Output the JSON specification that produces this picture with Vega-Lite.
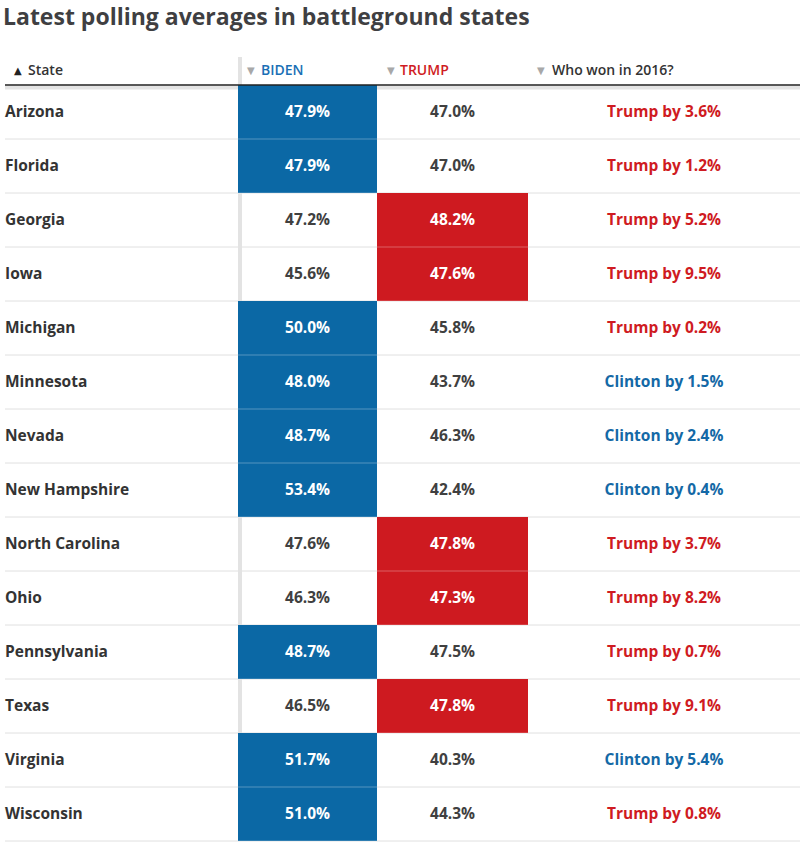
{
  "$schema": "https://vega.github.io/schema/vega-lite/v6.json",
  "background": "white",
  "padding": {"left": 3, "top": 7, "right": 0, "bottom": 0},
  "title": {"text": "Latest polling averages in battleground states", "anchor": "start", "font": "Open Sans", "fontSize": 23, "fontWeight": 700, "color": "#3f3f42", "offset": 25},
  "config": {"view": {"stroke": null}, "text": {"font": "Open Sans"}},
  "datasets": {
    "polls": [
      {"state": "Arizona", "biden": 0.479, "trump": 0.470, "winner": "Trump", "result2016": "Trump by 3.6%"},
      {"state": "Florida", "biden": 0.479, "trump": 0.470, "winner": "Trump", "result2016": "Trump by 1.2%"},
      {"state": "Georgia", "biden": 0.472, "trump": 0.482, "winner": "Trump", "result2016": "Trump by 5.2%"},
      {"state": "Iowa", "biden": 0.456, "trump": 0.476, "winner": "Trump", "result2016": "Trump by 9.5%"},
      {"state": "Michigan", "biden": 0.500, "trump": 0.458, "winner": "Trump", "result2016": "Trump by 0.2%"},
      {"state": "Minnesota", "biden": 0.480, "trump": 0.437, "winner": "Clinton", "result2016": "Clinton by 1.5%"},
      {"state": "Nevada", "biden": 0.487, "trump": 0.463, "winner": "Clinton", "result2016": "Clinton by 2.4%"},
      {"state": "New Hampshire", "biden": 0.534, "trump": 0.424, "winner": "Clinton", "result2016": "Clinton by 0.4%"},
      {"state": "North Carolina", "biden": 0.476, "trump": 0.478, "winner": "Trump", "result2016": "Trump by 3.7%"},
      {"state": "Ohio", "biden": 0.463, "trump": 0.473, "winner": "Trump", "result2016": "Trump by 8.2%"},
      {"state": "Pennsylvania", "biden": 0.487, "trump": 0.475, "winner": "Trump", "result2016": "Trump by 0.7%"},
      {"state": "Texas", "biden": 0.465, "trump": 0.478, "winner": "Trump", "result2016": "Trump by 9.1%"},
      {"state": "Virginia", "biden": 0.517, "trump": 0.403, "winner": "Clinton", "result2016": "Clinton by 5.4%"},
      {"state": "Wisconsin", "biden": 0.510, "trump": 0.443, "winner": "Trump", "result2016": "Trump by 0.8%"}
    ],
    "headers": [
      {"column": "State", "arrow": "▲"},
      {"column": "BIDEN", "arrow": "▼"},
      {"column": "TRUMP", "arrow": "▼"},
      {"column": "Who won in 2016?", "arrow": "▼"}
    ]
  },
  "columns": 4,
  "spacing": 0,
  "bounds": "flush",
  "align": "each",
  "concat": [
    {
      "width": 233, "height": 28,
      "data": {"name": "headers"},
      "transform": [{"filter": "datum.column === 'State'"}],
      "layer": [
        {"mark": {"type": "text", "align": "left", "baseline": "middle", "font": "DejaVu Sans", "fontSize": 10, "color": "#222222"}, "encoding": {"x": {"value": 9}, "text": {"field": "arrow"}}},
        {"mark": {"type": "text", "align": "left", "baseline": "middle", "fontSize": 14, "fontWeight": 600, "color": "#333333"}, "encoding": {"x": {"value": 23}, "text": {"field": "column"}}}
      ]
    },
    {
      "width": 139, "height": 28,
      "data": {"name": "headers"},
      "transform": [{"filter": "datum.column === 'BIDEN'"}],
      "layer": [
        {"mark": {"type": "rule", "color": "#e3e3e3", "strokeWidth": 4}, "encoding": {"x": {"value": 2}}},
        {"mark": {"type": "text", "align": "left", "baseline": "middle", "font": "DejaVu Sans", "fontSize": 10, "color": "#a8a8a8"}, "encoding": {"x": {"value": 9}, "text": {"field": "arrow"}}},
        {"mark": {"type": "text", "align": "left", "baseline": "middle", "fontSize": 14, "fontWeight": 600, "color": "#1a6fb5"}, "encoding": {"x": {"value": 23}, "text": {"field": "column"}}}
      ]
    },
    {
      "width": 151, "height": 28,
      "data": {"name": "headers"},
      "transform": [{"filter": "datum.column === 'TRUMP'"}],
      "layer": [
        {"mark": {"type": "text", "align": "left", "baseline": "middle", "font": "DejaVu Sans", "fontSize": 10, "color": "#a8a8a8"}, "encoding": {"x": {"value": 10}, "text": {"field": "arrow"}}},
        {"mark": {"type": "text", "align": "left", "baseline": "middle", "fontSize": 14, "fontWeight": 600, "color": "#cf1b22"}, "encoding": {"x": {"value": 23}, "text": {"field": "column"}}}
      ]
    },
    {
      "width": 272, "height": 28,
      "data": {"name": "headers"},
      "transform": [{"filter": "datum.column === 'Who won in 2016?'"}],
      "layer": [
        {"mark": {"type": "text", "align": "left", "baseline": "middle", "font": "DejaVu Sans", "fontSize": 10, "color": "#a8a8a8"}, "encoding": {"x": {"value": 9}, "text": {"field": "arrow"}}},
        {"mark": {"type": "text", "align": "left", "baseline": "middle", "fontSize": 14, "fontWeight": 600, "color": "#333333"}, "encoding": {"x": {"value": 24}, "text": {"field": "column"}}}
      ]
    },
    {
      "width": 233, "height": 756,
      "data": {"name": "polls"},
      "encoding": {"y": {"field": "state", "type": "nominal", "axis": null, "scale": {"paddingInner": 0, "paddingOuter": 0}}},
      "layer": [
        {"mark": {"type": "rule", "color": "#e0e0e0", "strokeWidth": 1}, "encoding": {"y": {"field": "state", "type": "nominal", "bandPosition": 1}}},
        {"transform": [{"filter": "datum.state === 'Arizona'"}], "mark": {"type": "rule", "color": "#e4e4e4", "strokeWidth": 4, "yOffset": 2.5}, "encoding": {"y": {"field": "state", "type": "nominal", "bandPosition": 0}}},
        {"transform": [{"filter": "datum.state === 'Arizona'"}], "mark": {"type": "rule", "color": "#222222", "strokeWidth": 1.5}, "encoding": {"y": {"field": "state", "type": "nominal", "bandPosition": 0}}},
        {"mark": {"type": "text", "align": "left", "baseline": "middle", "fontSize": 15.5, "fontWeight": 700, "color": "#333333"}, "encoding": {"x": {"value": 0}, "text": {"field": "state"}}}
      ]
    },
    {
      "width": 139, "height": 756,
      "data": {"name": "polls"},
      "encoding": {"y": {"field": "state", "type": "nominal", "axis": null, "scale": {"paddingInner": 0, "paddingOuter": 0}}},
      "layer": [
        {"mark": {"type": "rule", "color": "#e0e0e0", "strokeWidth": 1}, "encoding": {"y": {"field": "state", "type": "nominal", "bandPosition": 1}}},
        {"transform": [{"filter": "datum.state === 'Arizona'"}], "mark": {"type": "rule", "color": "#e4e4e4", "strokeWidth": 4, "yOffset": 2.5}, "encoding": {"y": {"field": "state", "type": "nominal", "bandPosition": 0}}},
        {"transform": [{"filter": "datum.state === 'Arizona'"}], "mark": {"type": "rule", "color": "#e3e3e3", "strokeWidth": 4}, "encoding": {"x": {"value": 2}, "y": null}},
        {"transform": [{"filter": "datum.biden > datum.trump"}], "mark": {"type": "rect", "color": "#0b68a5"}},
        {"transform": [{"filter": "datum.biden > datum.trump"}], "mark": {"type": "rule", "color": "white", "opacity": 0.3, "strokeWidth": 1}, "encoding": {"y": {"field": "state", "type": "nominal", "bandPosition": 1}}},
        {"transform": [{"filter": "datum.state === 'Arizona'"}], "mark": {"type": "rule", "color": "#222222", "strokeWidth": 1.5}, "encoding": {"y": {"field": "state", "type": "nominal", "bandPosition": 0}}},
        {"mark": {"type": "text", "baseline": "middle", "fontSize": 15.5, "fontWeight": 700}, "encoding": {"text": {"field": "biden", "type": "quantitative", "format": ".1%"}, "color": {"condition": {"test": "datum.biden > datum.trump", "value": "white"}, "value": "#404040"}}}
      ]
    },
    {
      "width": 151, "height": 756,
      "data": {"name": "polls"},
      "encoding": {"y": {"field": "state", "type": "nominal", "axis": null, "scale": {"paddingInner": 0, "paddingOuter": 0}}},
      "layer": [
        {"mark": {"type": "rule", "color": "#e0e0e0", "strokeWidth": 1}, "encoding": {"y": {"field": "state", "type": "nominal", "bandPosition": 1}}},
        {"transform": [{"filter": "datum.state === 'Arizona'"}], "mark": {"type": "rule", "color": "#e4e4e4", "strokeWidth": 4, "yOffset": 2.5}, "encoding": {"y": {"field": "state", "type": "nominal", "bandPosition": 0}}},
        {"transform": [{"filter": "datum.trump > datum.biden"}], "mark": {"type": "rect", "color": "#ce1a20"}},
        {"transform": [{"filter": "datum.trump > datum.biden"}], "mark": {"type": "rule", "color": "white", "opacity": 0.3, "strokeWidth": 1}, "encoding": {"y": {"field": "state", "type": "nominal", "bandPosition": 1}}},
        {"transform": [{"filter": "datum.state === 'Arizona'"}], "mark": {"type": "rule", "color": "#222222", "strokeWidth": 1.5}, "encoding": {"y": {"field": "state", "type": "nominal", "bandPosition": 0}}},
        {"mark": {"type": "text", "baseline": "middle", "fontSize": 15.5, "fontWeight": 700}, "encoding": {"text": {"field": "trump", "type": "quantitative", "format": ".1%"}, "color": {"condition": {"test": "datum.trump > datum.biden", "value": "white"}, "value": "#404040"}}}
      ]
    },
    {
      "width": 272, "height": 756,
      "data": {"name": "polls"},
      "encoding": {"y": {"field": "state", "type": "nominal", "axis": null, "scale": {"paddingInner": 0, "paddingOuter": 0}}},
      "layer": [
        {"mark": {"type": "rule", "color": "#e0e0e0", "strokeWidth": 1}, "encoding": {"y": {"field": "state", "type": "nominal", "bandPosition": 1}}},
        {"transform": [{"filter": "datum.state === 'Arizona'"}], "mark": {"type": "rule", "color": "#e4e4e4", "strokeWidth": 4, "yOffset": 2.5}, "encoding": {"y": {"field": "state", "type": "nominal", "bandPosition": 0}}},
        {"transform": [{"filter": "datum.state === 'Arizona'"}], "mark": {"type": "rule", "color": "#222222", "strokeWidth": 1.5}, "encoding": {"y": {"field": "state", "type": "nominal", "bandPosition": 0}}},
        {"mark": {"type": "text", "baseline": "middle", "fontSize": 15.5, "fontWeight": 700}, "encoding": {"text": {"field": "result2016"}, "color": {"field": "winner", "type": "nominal", "legend": null, "scale": {"domain": ["Trump", "Clinton"], "range": ["#cf1b22", "#1469a6"]}}}}
      ]
    }
  ]
}
